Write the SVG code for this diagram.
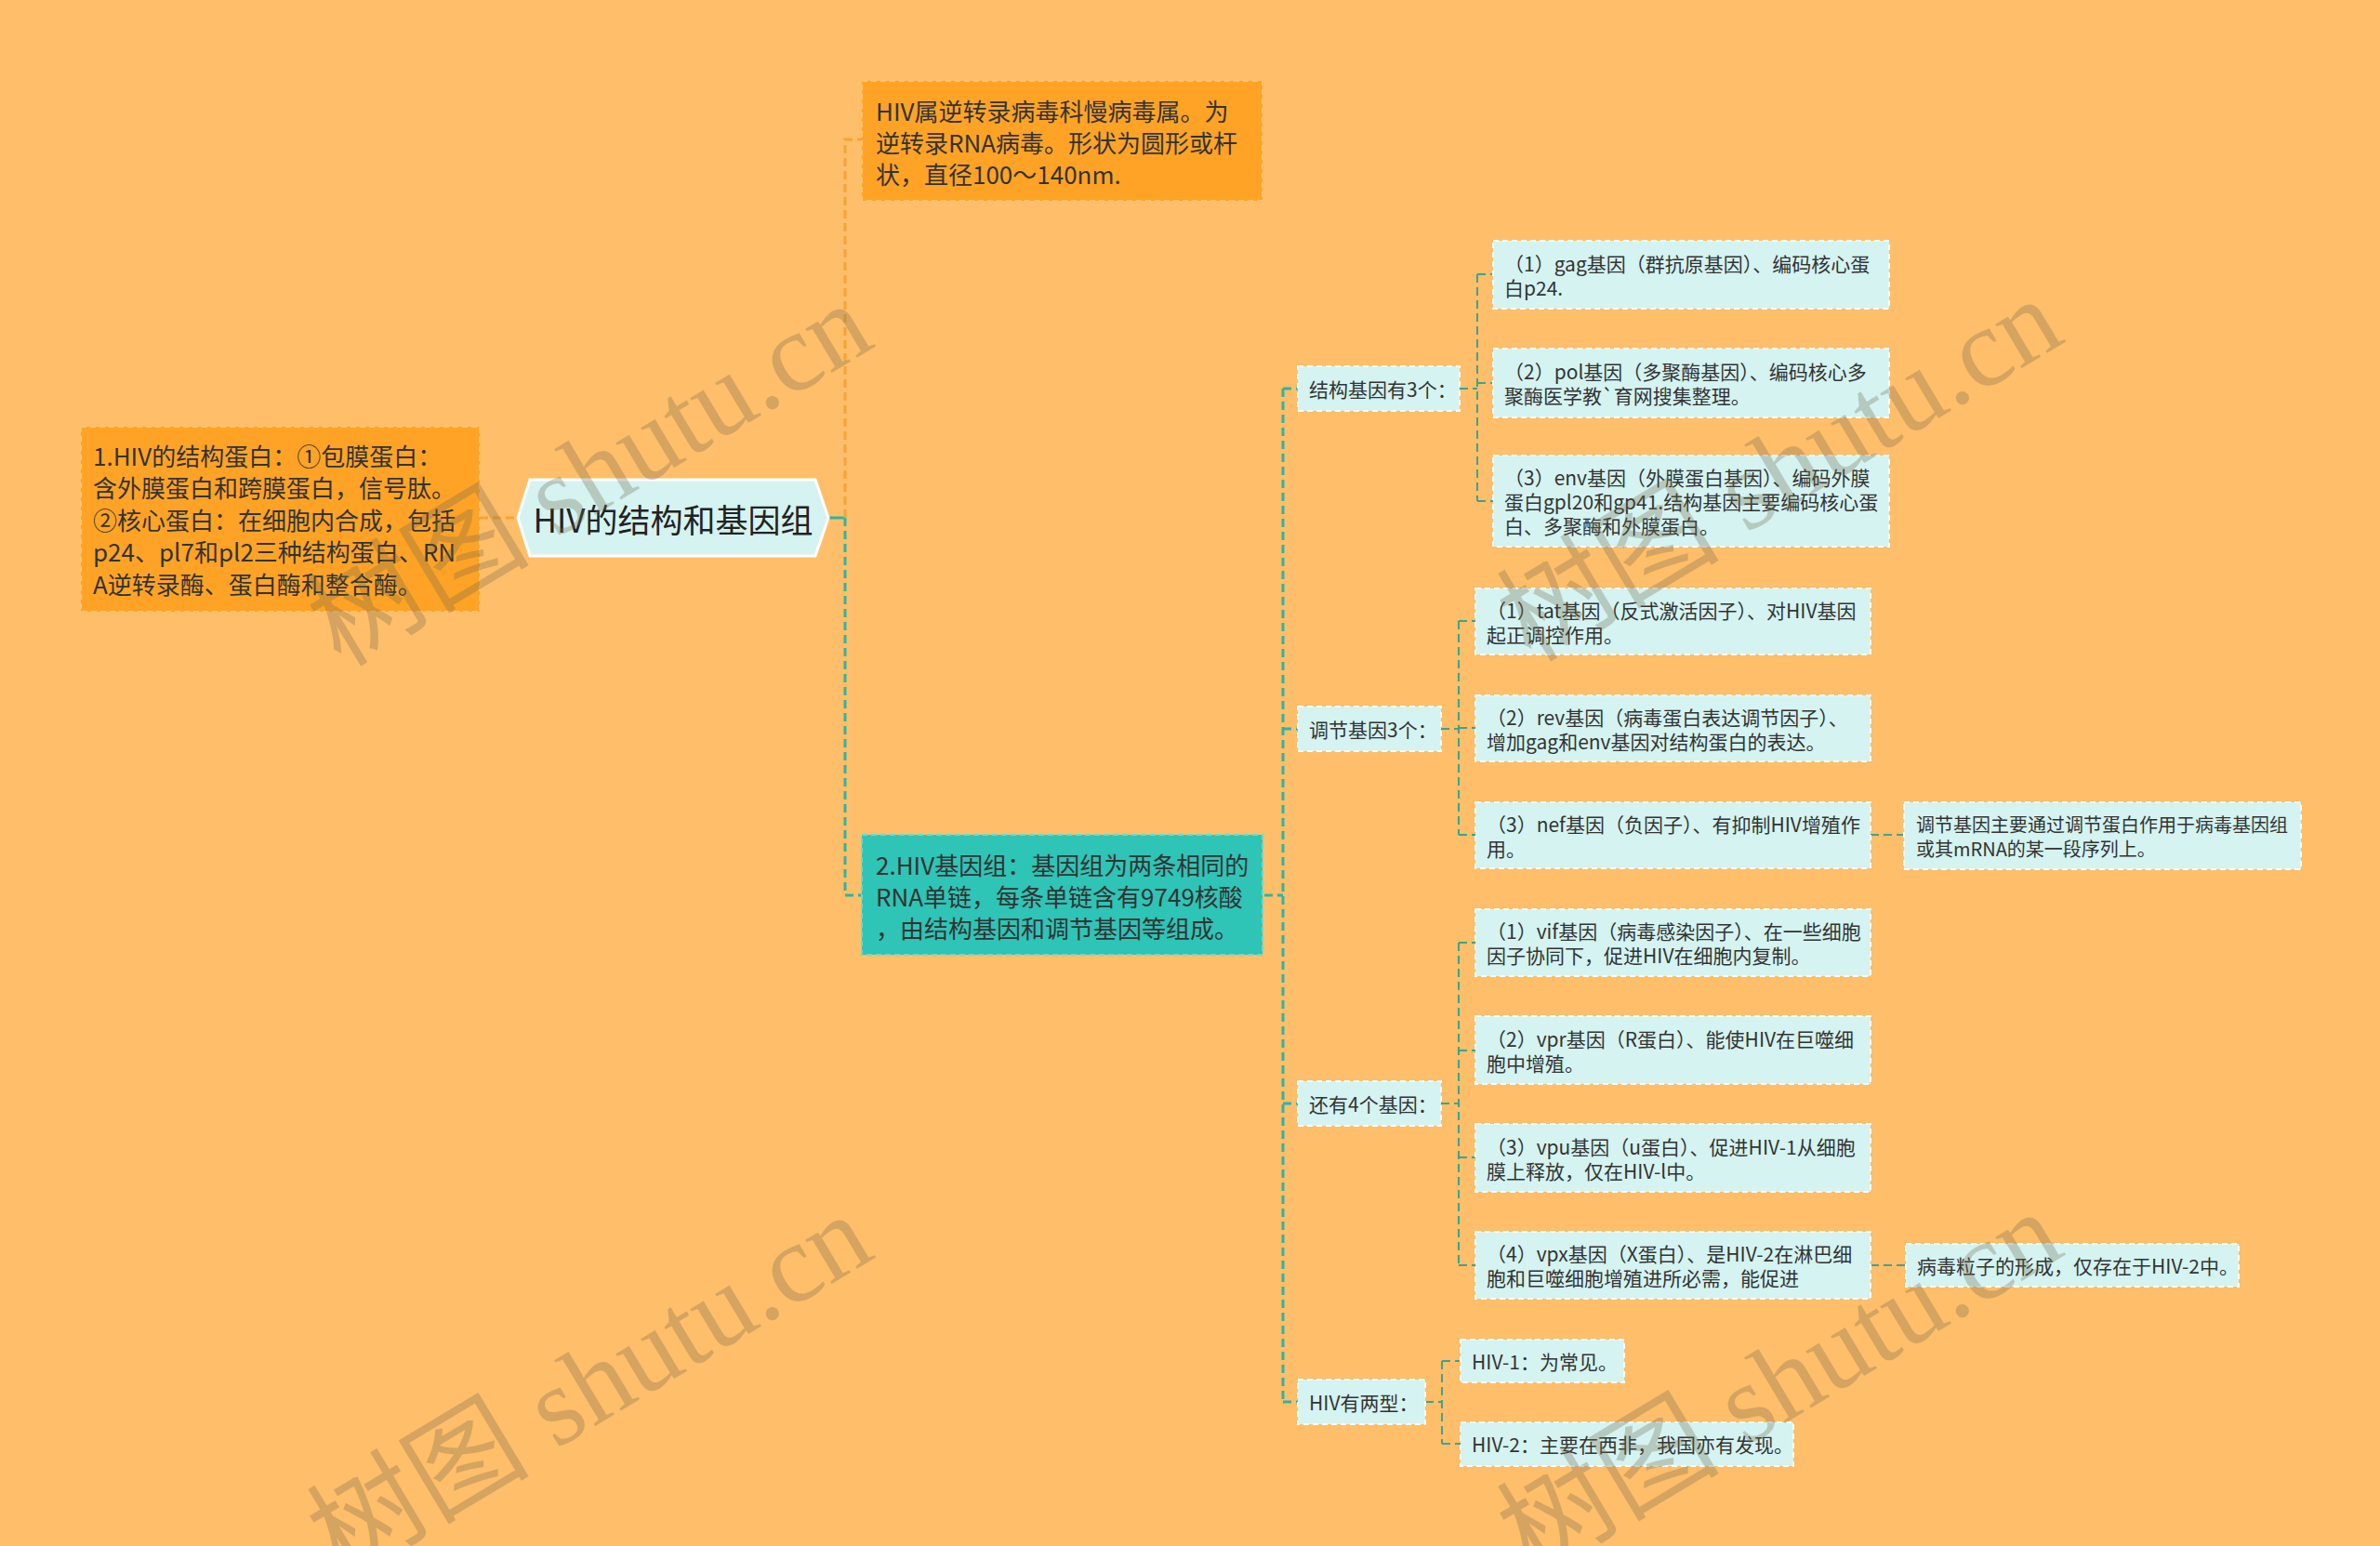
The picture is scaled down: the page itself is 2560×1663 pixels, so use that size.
<svg xmlns="http://www.w3.org/2000/svg" width="2560" height="1663" viewBox="0 0 2560 1663">
<style>
text{font-family:"Noto Sans CJK SC","Noto Sans",sans-serif;fill:#333333;dominant-baseline:central}
.t2{font-size:26px}
.t3{font-size:21px}
.t4{font-size:20px}
.root{font-size:35px;fill:#222}
.orange{fill:#FFA326;stroke:#FFC36E;stroke-width:2;stroke-dasharray:6 4}
.teal{fill:#2EC4B6;stroke:#6ADACD;stroke-width:2;stroke-dasharray:6 4}
.cyan{fill:#D4F3F1;stroke:#F4FCFB;stroke-width:2;stroke-dasharray:6 4}
.co{fill:none;stroke:#F5A434;stroke-width:3;stroke-dasharray:9 5}
.ct{fill:none;stroke:#2DB5A3;stroke-width:3;stroke-dasharray:9 5}
.cg{fill:none;stroke:#3EA48C;stroke-width:2;stroke-dasharray:9 5}
.wm{font-family:"Liberation Serif","Noto Sans CJK SC",serif;font-size:120px;fill:#706B4B;fill-opacity:0.3;dominant-baseline:auto}
</style>
<rect width="2560" height="1663" fill="#FFBE69"/>
<g id="connectors">
<path class="co" d="M516 557 H557"/>
<path d="M891 557 H909" fill="none" stroke="#2DB5A3" stroke-width="3"/>
<path class="co" d="M909 557 V150 H927"/>
<path class="ct" d="M909 557 V963 H927"/>
<path class="ct" d="M1360 963 H1380 M1380 418 V1508 M1380 418 H1396 M1380 784 H1396 M1380 1187 H1396 M1380 1508 H1396"/>
<path class="cg" d="M1570 418 H1589 M1589 295 V539 M1589 295 H1606 M1589 412 H1606 M1589 539 H1606"/>
<path class="cg" d="M1550 784 H1569 M1569 668 V898 M1569 668 H1587 M1569 783 H1587 M1569 898 H1587"/>
<path class="cg" d="M2012 898 H2048"/>
<path class="cg" d="M1550 1187 H1569 M1569 1014 V1361 M1569 1014 H1587 M1569 1130 H1587 M1569 1245 H1587 M1569 1361 H1587"/>
<path class="cg" d="M2012 1361 H2050"/>
<path class="cg" d="M1533 1508 H1551 M1551 1464 V1553 M1551 1464 H1571 M1551 1553 H1571"/>
</g>
<g id="root">
<polygon points="557,557 570,516 877,516 891,557 877,598 570,598" fill="#D4F3F1" stroke="#FFFFFF" stroke-width="3"/>
<text class="root" x="724" y="557" text-anchor="middle">HIV的结构和基因组</text>
</g>
<g id="n-structure-protein">
<rect class="orange" x="87" y="459" width="429" height="199"/>
<text class="t2" x="100" y="489">1.HIV的结构蛋白：①包膜蛋白：</text>
<text class="t2" x="100" y="523">含外膜蛋白和跨膜蛋白，信号肽。</text>
<text class="t2" x="100" y="558">②核心蛋白：在细胞内合成，包括</text>
<text class="t2" x="100" y="592">p24、pl7和pl2三种结构蛋白、RN</text>
<text class="t2" x="100" y="627">A逆转录酶、蛋白酶和整合酶。</text>
</g>
<g id="n-hiv-class">
<rect class="orange" x="927" y="87" width="431" height="129"/>
<text class="t2" x="942" y="118">HIV属逆转录病毒科慢病毒属。为</text>
<text class="t2" x="942" y="152">逆转录RNA病毒。形状为圆形或杆</text>
<text class="t2" x="942" y="186">状，直径100～140nm.</text>
</g>
<g id="n-genome">
<rect class="teal" x="927" y="898" width="431" height="129"/>
<text class="t2" x="942" y="929">2.HIV基因组：基因组为两条相同的</text>
<text class="t2" x="942" y="963">RNA单链，每条单链含有9749核酸</text>
<text class="t2" x="942" y="997">，由结构基因和调节基因等组成。</text>
</g>
<g id="n-struct-genes">
<rect class="cyan" x="1396" y="394" width="174" height="48"/>
<text class="t3" x="1408" y="418">结构基因有3个：</text>
</g>
<g id="n-reg-genes">
<rect class="cyan" x="1396" y="760" width="154" height="48"/>
<text class="t3" x="1408" y="784">调节基因3个：</text>
</g>
<g id="n-other-genes">
<rect class="cyan" x="1396" y="1163" width="154" height="48"/>
<text class="t3" x="1408" y="1187">还有4个基因：</text>
</g>
<g id="n-two-types">
<rect class="cyan" x="1396" y="1484" width="137" height="48"/>
<text class="t3" x="1408" y="1508">HIV有两型：</text>
</g>
<g id="n-gag">
<rect class="cyan" x="1606" y="259" width="426" height="73"/>
<text class="t3" x="1618" y="282.5">（1）gag基因（群抗原基因）、编码核心蛋</text>
<text class="t3" x="1618" y="308.5">白p24.</text>
</g>
<g id="n-pol">
<rect class="cyan" x="1606" y="375" width="426" height="74"/>
<text class="t3" x="1618" y="399">（2）pol基因（多聚酶基因）、编码核心多</text>
<text class="t3" x="1618" y="425">聚酶医学教`育网搜集整理。</text>
</g>
<g id="n-env">
<rect class="cyan" x="1606" y="490" width="426" height="98"/>
<text class="t3" x="1618" y="513">（3）env基因（外膜蛋白基因）、编码外膜</text>
<text class="t3" x="1618" y="539">蛋白gpl20和gp41.结构基因主要编码核心蛋</text>
<text class="t3" x="1618" y="565">白、多聚酶和外膜蛋白。</text>
</g>
<g id="n-tat">
<rect class="cyan" x="1587" y="633" width="425" height="71"/>
<text class="t3" x="1599" y="655.5">（1）tat基因（反式激活因子）、对HIV基因</text>
<text class="t3" x="1599" y="681.5">起正调控作用。</text>
</g>
<g id="n-rev">
<rect class="cyan" x="1587" y="748" width="425" height="71"/>
<text class="t3" x="1599" y="770.5">（2）rev基因（病毒蛋白表达调节因子）、</text>
<text class="t3" x="1599" y="796.5">增加gag和env基因对结构蛋白的表达。</text>
</g>
<g id="n-nef">
<rect class="cyan" x="1587" y="863" width="425" height="71"/>
<text class="t3" x="1599" y="885.5">（3）nef基因（负因子）、有抑制HIV增殖作</text>
<text class="t3" x="1599" y="911.5">用。</text>
</g>
<g id="n-nef-note">
<rect class="cyan" x="2048" y="863" width="427" height="72"/>
<text class="t4" x="2061" y="886">调节基因主要通过调节蛋白作用于病毒基因组</text>
<text class="t4" x="2061" y="912">或其mRNA的某一段序列上。</text>
</g>
<g id="n-vif">
<rect class="cyan" x="1587" y="978" width="425" height="72"/>
<text class="t3" x="1599" y="1001">（1）vif基因（病毒感染因子）、在一些细胞</text>
<text class="t3" x="1599" y="1027">因子协同下，促进HIV在细胞内复制。</text>
</g>
<g id="n-vpr">
<rect class="cyan" x="1587" y="1093" width="425" height="73"/>
<text class="t3" x="1599" y="1116.5">（2）vpr基因（R蛋白）、能使HIV在巨噬细</text>
<text class="t3" x="1599" y="1142.5">胞中增殖。</text>
</g>
<g id="n-vpu">
<rect class="cyan" x="1587" y="1209" width="425" height="73"/>
<text class="t3" x="1599" y="1232.5">（3）vpu基因（u蛋白）、促进HIV-1从细胞</text>
<text class="t3" x="1599" y="1258.5">膜上释放，仅在HIV-l中。</text>
</g>
<g id="n-vpx">
<rect class="cyan" x="1587" y="1325" width="425" height="72"/>
<text class="t3" x="1599" y="1348">（4）vpx基因（X蛋白）、是HIV-2在淋巴细</text>
<text class="t3" x="1599" y="1374">胞和巨噬细胞增殖进所必需，能促进</text>
</g>
<g id="n-vpx-note">
<rect class="cyan" x="2050" y="1338" width="358" height="46"/>
<text class="t3" x="2062" y="1361">病毒粒子的形成，仅存在于HIV-2中。</text>
</g>
<g id="n-hiv1">
<rect class="cyan" x="1571" y="1441" width="176" height="46"/>
<text class="t3" x="1583" y="1464">HIV-1：为常见。</text>
</g>
<g id="n-hiv2">
<rect class="cyan" x="1571" y="1530" width="358" height="47"/>
<text class="t3" x="1583" y="1553">HIV-2：主要在西非，我国亦有发现。</text>
</g>
<g id="watermarks">
<text class="wm" transform="translate(655,545) rotate(-31)" text-anchor="middle">树图 shutu.cn</text>
<text class="wm" transform="translate(655,1525) rotate(-31)" text-anchor="middle">树图 shutu.cn</text>
<text class="wm" transform="translate(1935,540) rotate(-31)" text-anchor="middle">树图 shutu.cn</text>
<text class="wm" transform="translate(1935,1522) rotate(-31)" text-anchor="middle">树图 shutu.cn</text>
</g>
</svg>
